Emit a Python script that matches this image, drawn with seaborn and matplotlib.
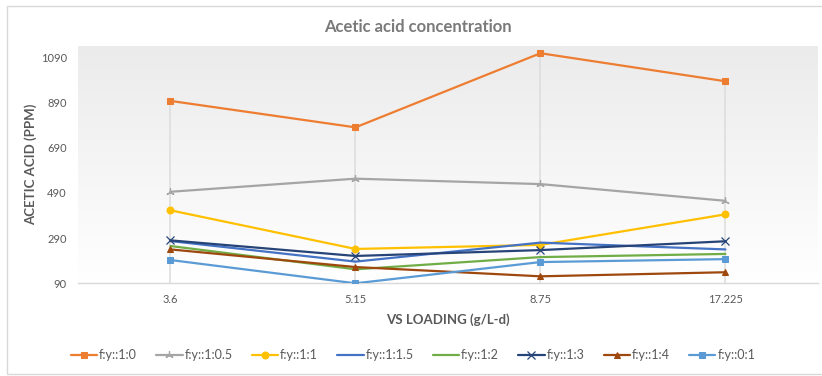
import numpy as np
import pandas as pd
import matplotlib
matplotlib.use("Agg")
import matplotlib.pyplot as plt
import seaborn as sns
from matplotlib.patches import Rectangle

# VS loading categories (g/L-d)
loadings = ["3.6", "5.15", "8.75", "17.225"]

# Acetic acid concentration (ppm) for each f:y ratio
f_1_0 = [897, 780, 1108, 984]
f_1_05 = [495, 553, 529, 455]
f_1_1 = [413, 242, 260, 395]
f_1_15 = [277, 186, 270, 240]
f_1_2 = [255, 152, 206, 220]
f_1_3 = [280, 211, 237, 276]
f_1_4 = [240, 162, 121, 139]
f_0_1 = [193, 90, 184, 197]

series_names = ["f:y::1:0", "f:y::1:0.5", "f:y::1:1", "f:y::1:1.5",
                "f:y::1:2", "f:y::1:3", "f:y::1:4", "f:y::0:1"]
series_values = [f_1_0, f_1_05, f_1_1, f_1_15, f_1_2, f_1_3, f_1_4, f_0_1]

y_ticks = [90, 290, 490, 690, 890, 1090]

colors = ["#ED7D31", "#A5A5A5", "#FFC000", "#4472C4",
          "#70AD47", "#264478", "#9E480E", "#5B9BD5"]
markers = ["s", (3, 2, 0), "o", None, None, "x", "^", "s"]

rows = []
for name, vals in zip(series_names, series_values):
    for i, v in enumerate(vals):
        rows.append({"series": name, "pos": i, "value": v})
df = pd.DataFrame(rows)

sns.set_theme(style="white")
plt.rcParams["font.family"] = ["Lato", "DejaVu Sans"]

fig = plt.figure(figsize=(8.22, 3.76), dpi=100)
ax = fig.add_axes([0.0949, 0.2465, 0.9001, 0.6312])

# soft vertical gradient behind the plot area
grad = np.linspace(1.0, 0.0, 256).reshape(-1, 1)
ax.imshow(grad, extent=[0, 1, 0, 1], transform=ax.transAxes, aspect="auto",
          cmap=matplotlib.colors.LinearSegmentedColormap.from_list(
              "bg", ["#ffffff", "#ebebeb"]),
          vmin=0, vmax=1, zorder=0)

grey_text = "#595959"

for i, (name, col, mk) in enumerate(zip(series_names, colors, markers)):
    sub = df[df["series"] == name]
    kw = dict(marker=mk, markersize=5, markeredgecolor=col,
              markerfacecolor=col)
    if mk is None:
        kw = dict(marker=None)
    if mk == "x" or isinstance(mk, tuple):
        kw["markeredgewidth"] = 0.9
        kw["markersize"] = 6
    sns.lineplot(data=sub, x="pos", y="value", ax=ax, color=col,
                 linewidth=1.6, label=name, zorder=3 + i, sort=False, **kw)

# drop lines from the highest value at each loading down to the axis
tops = df.groupby("pos")["value"].max()
ax.vlines(tops.index, 90, tops.values, color="#dcdcdc", linewidth=1.1,
          zorder=1)

ax.set_xlim(-0.5, len(loadings) - 0.5)
ax.set_ylim(90, 1140)
ax.set_xticks(range(len(loadings)))
ax.set_xticklabels(loadings)
ax.set_yticks(y_ticks)

for s in ["top", "right", "left"]:
    ax.spines[s].set_visible(False)
ax.spines["bottom"].set_color("#d9d9d9")
ax.spines["bottom"].set_linewidth(1.0)
ax.tick_params(axis="both", length=0, labelsize=8, colors=grey_text, pad=8)
ax.grid(False)

ax.set_xlabel("VS LOADING (g/L-d)", fontsize=9.5, fontweight="bold",
              color=grey_text, labelpad=6)
ax.set_ylabel("ACETIC ACID (PPM)", fontsize=9.5, fontweight="bold",
              color=grey_text, labelpad=3)

fig.text(0.509, 0.928, "Acetic acid concentration", ha="center", va="center",
         fontsize=12, fontweight="bold", color="#7a7a7a")

handles, labels = ax.get_legend_handles_labels()
ax.get_legend().remove()
fig.legend(handles, labels, loc="center", bbox_to_anchor=(0.5025, 0.056),
           ncol=8, frameon=False, fontsize=9, handlelength=2.1,
           handletextpad=0.15, columnspacing=1.55, labelcolor=grey_text)

# outer chart border
fig.patches.append(Rectangle((7 / 822, 2 / 376), 2.0, 368 / 376,
                             transform=fig.transFigure, fill=False,
                             edgecolor="#d9d9d9", linewidth=1.0))

fig.savefig("out.png", dpi=100)
